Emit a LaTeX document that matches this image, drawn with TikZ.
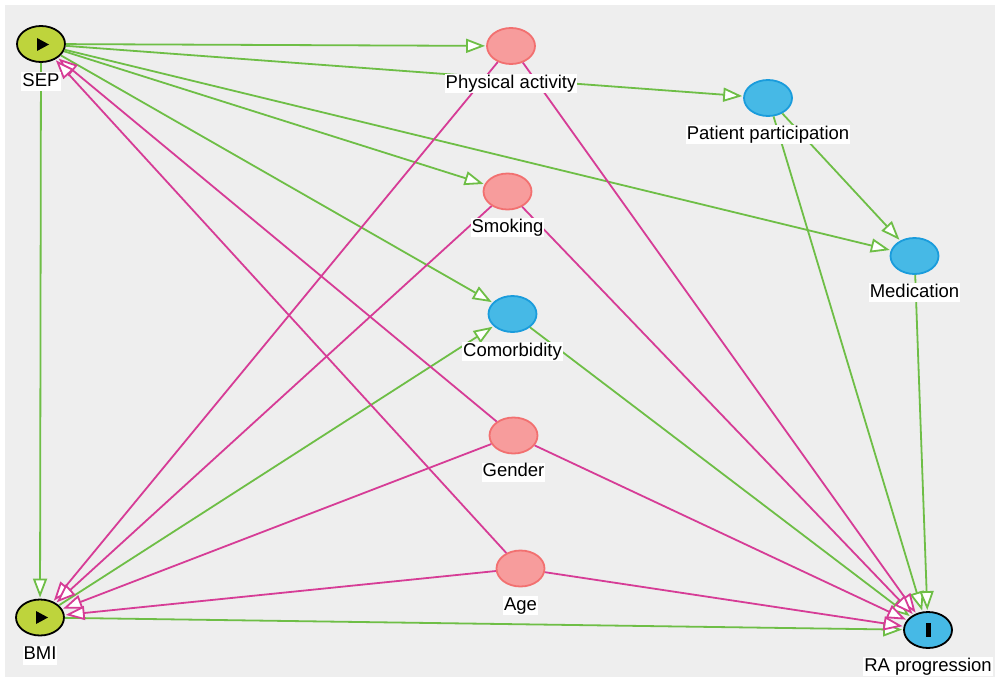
\documentclass[tikz,border=0pt]{standalone}
\usepackage{fontspec}
\setmainfont{Liberation Sans}
\usetikzlibrary{shapes.geometric,arrows.meta}

\definecolor{bggray}{HTML}{EEEEEE}
\definecolor{causal}{HTML}{6EBE46}
\definecolor{biasing}{HTML}{D63C96}
\definecolor{expfill}{HTML}{BED43C}
\definecolor{outfill}{HTML}{46B9E6}
\definecolor{outline}{HTML}{1A9CDC}
\definecolor{confill}{HTML}{F79C9C}
\definecolor{conline}{HTML}{F27070}

\tikzset{
  var/.style={ellipse, inner sep=0pt, minimum width=48pt, minimum height=36pt, line width=1.8pt},
  exposure/.style={var, draw=black, fill=expfill},
  outcome/.style={var, draw=black, fill=outfill},
  mediator/.style={var, draw=outline, fill=outfill},
  confounder/.style={var, draw=conline, fill=confill},
  tag/.style={fill=white, inner xsep=1pt, inner ysep=0.5pt, text height=13.5pt, text depth=4.5pt,
    font=\fontsize{18.5}{20}\selectfont, anchor=base},
  edge/.style={line width=1.8pt, line join=miter, shorten >=1pt,
    -{Triangle[length=19pt, width=14pt, fill=white]}},
  causaledge/.style={edge, draw=causal},
  biasedge/.style={edge, draw=biasing}
}

\begin{document}
\begin{tikzpicture}[x=1pt, y=-1pt]
  \useasboundingbox (0,0) rectangle (995,677);
  \fill[white] (0,0) rectangle (995,677);
  \fill[bggray] (5,5) rectangle (995,677);

  % variables
  \node[exposure]   (sep) at (41,44) {};
  \node[exposure]   (bmi) at (40,617.5) {};
  \node[outcome]    (ra)  at (928,630) {};
  \node[confounder] (pa)  at (511,46) {};
  \node[mediator]   (pp)  at (768,98) {};
  \node[confounder] (sm)  at (507.5,191.5) {};
  \node[mediator]   (med) at (914.5,256) {};
  \node[mediator]   (com) at (512.5,314) {};
  \node[confounder] (gen) at (513.5,435.5) {};
  \node[confounder] (age) at (520.5,568.5) {};

  % exposure / outcome markers
  \fill[black] (37,38) -- (49,44.5) -- (37,51) -- cycle;
  \fill[black] (36,611) -- (48,617.5) -- (36,624) -- cycle;
  \fill[black] (926,623) rectangle (931,637);

  % causal paths
  \draw[causaledge] (sep) -- (pa);
  \draw[causaledge] (sep) -- (pp);
  \draw[causaledge] (sep) -- (sm);
  \draw[causaledge] (sep) -- (com);
  \draw[causaledge] (sep) -- (med);
  \draw[causaledge] (sep) -- (bmi);
  \draw[causaledge] (pp) -- (med);
  \draw[causaledge] (pp) -- (ra);
  \draw[causaledge] (med) -- (ra);
  \draw[causaledge] (com) -- (ra);
  \draw[causaledge] (bmi) -- (com);
  \draw[causaledge] (bmi) -- (ra);

  % biasing paths
  \draw[biasedge] (pa) -- (bmi);
  \draw[biasedge] (pa) -- (ra);
  \draw[biasedge] (sm) -- (bmi);
  \draw[biasedge] (sm) -- (ra);
  \draw[biasedge] (gen) -- (sep);
  \draw[biasedge] (gen) -- (bmi);
  \draw[biasedge] (gen) -- (ra);
  \draw[biasedge] (age) -- (sep);
  \draw[biasedge] (age) -- (bmi);
  \draw[biasedge] (age) -- (ra);

  % labels
  \node[tag] (lsep) at (41,86) {SEP};
  \node[tag] (lbmi) at (40,659.5) {BMI};
  \node[tag] (lra)  at (928,671) {RA progression};
  \node[tag] (lpa)  at (511,88) {Physical activity};
  \node[tag] (lpp)  at (768,139) {Patient participation};
  \node[tag] (lsm)  at (507.5,232) {Smoking};
  \node[tag] (lmed) at (914.5,297) {Medication};
  \node[tag] (lcom) at (512.5,356) {Comorbidity};
  \node[tag] (lgen) at (513.5,476.5) {Gender};
  \node[tag] (lage) at (520.5,610) {Age};
\end{tikzpicture}
\end{document}
